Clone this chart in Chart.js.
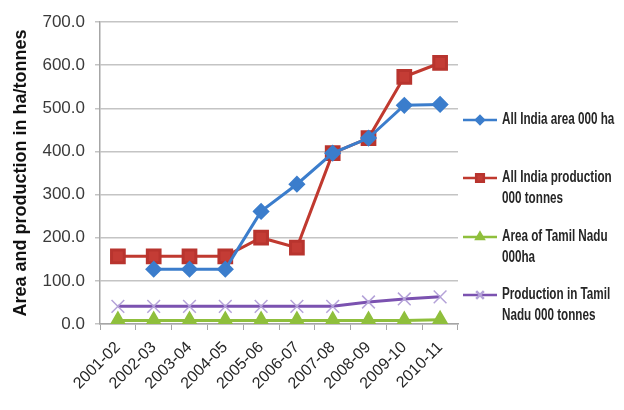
<!DOCTYPE html>
<html>
<head>
<meta charset="utf-8">
<script src="https://cdn.jsdelivr.net/npm/chart.js@4.4.1/dist/chart.umd.min.js"></script>
<style>
  html, body { margin: 0; padding: 0; background: #fff; }
  #wrap { width: 624px; height: 410px; position: relative; }
</style>
</head>
<body>
<div id="wrap"><canvas id="seedChart"></canvas></div>
<script>
const years = ['2001-02', '2002-03', '2003-04', '2004-05', '2005-06', '2006-07', '2007-08', '2008-09', '2009-10', '2010-11'];
const indiaArea = [null, 127, 127, 127, 261, 324, 396, 431, 507, 509];
const indiaProduction = [157, 157, 157, 157, 200, 177, 396, 431, 573, 605];
const tnArea = [8, 8, 8, 8, 8, 8, 8, 8, 8, 10];
const tnProduction = [41, 41, 41, 41, 41, 41, 41, 51, 58, 63];
const yTicks = [0, 100, 200, 300, 400, 500, 600, 700];

const legendLines = [
  ['All India area 000 ha'],
  ['All India production', '000 tonnes'],
  ['Area of Tamil Nadu', '000ha'],
  ['Production in Tamil', 'Nadu 000 tonnes']
];

const tickFont = '"Liberation Sans", Arial, sans-serif';

// legend drawn by hand so the labels can wrap like the original
const sideLegend = {
  id: 'sideLegend',
  afterDraw(chart) {
    const ctx = chart.ctx;
    const rows = [120, 178, 237, 295];
    ctx.save();
    chart.data.datasets.forEach((ds, i) => {
      const y = rows[i];
      ctx.strokeStyle = ds.borderColor;
      ctx.lineWidth = 2.5;
      ctx.beginPath();
      ctx.moveTo(463, y);
      ctx.lineTo(497, y);
      ctx.stroke();
      ctx.fillStyle = ds.pointBackgroundColor;
      ctx.strokeStyle = ds.pointBorderColor;
      Chart.helpers.drawPoint(ctx, {
        pointStyle: ds.pointStyle,
        radius: ds.pointRadius * 0.6,
        borderWidth: 1
      }, 480, y);
      ctx.fillStyle = '#262626';
      ctx.font = 'bold 16px ' + tickFont;
      ctx.textBaseline = 'middle';
      legendLines[i].forEach((t, j) => {
        ctx.save();
        ctx.translate(502, y + j * 21);
        ctx.scale(0.73, 1);
        ctx.fillText(t, 0, 0);
        ctx.restore();
      });
    });
    ctx.restore();
  }
};

new Chart(document.getElementById('seedChart'), {
  type: 'line',
  data: {
    labels: years,
    datasets: [{
      label: 'All India area 000 ha',
      data: indiaArea,
      borderColor: '#3b7dcc',
      pointBackgroundColor: '#3b7dcc',
      pointBorderColor: '#3b7dcc',
      pointStyle: 'rectRot',
      pointRadius: 6.5,
      borderWidth: 3
    }, {
      label: 'All India production 000 tonnes',
      data: indiaProduction,
      borderColor: '#c0392f',
      pointBackgroundColor: '#c43c35',
      pointBorderColor: '#b8342e',
      pointStyle: 'rect',
      pointRadius: 9,
      borderWidth: 3
    }, {
      label: 'Area of Tamil Nadu 000ha',
      data: tnArea,
      borderColor: '#8fbf3c',
      pointBackgroundColor: '#8fbf3c',
      pointBorderColor: '#8fbf3c',
      pointStyle: 'triangle',
      pointRadius: 7,
      borderWidth: 3
    }, {
      label: 'Production in Tamil Nadu 000 tonnes',
      data: tnProduction,
      borderColor: '#7b52b0',
      pointBackgroundColor: '#b9a6dc',
      pointBorderColor: '#b4a2d8',
      pointStyle: 'crossRot',
      pointRadius: 9,
      pointBorderWidth: 1.5,
      borderWidth: 3
    }]
  },
  options: {
    responsive: true,
    maintainAspectRatio: false,
    animation: false,
    layout: { padding: { top: 22, right: 166, left: 0, bottom: 0 } },
    plugins: {
      legend: { display: false },
      tooltip: { enabled: false }
    },
    scales: {
      x: {
        offset: true,
        afterFit: (scale) => { scale.height = 86; },
        grid: {
          offset: true,
          drawOnChartArea: false,
          drawTicks: true,
          tickLength: 6,
          color: '#a6a6a6'
        },
        border: { color: '#a6a6a6', width: 1.5 },
        ticks: {
          color: '#262626',
          maxRotation: 45,
          minRotation: 45,
          autoSkip: false,
          padding: 8,
          font: { family: tickFont, size: 16 }
        }
      },
      y: {
        min: 0,
        max: 700,
        afterFit: (scale) => { scale.width = 100; },
        afterBuildTicks: (scale) => { scale.ticks = yTicks.map(v => ({ value: v })); },
        grid: { color: '#c4c4c4', lineWidth: 1.5, tickLength: 5 },
        border: { color: '#a6a6a6', width: 1.5 },
        title: {
          display: true,
          text: 'Area and production in ha/tonnes',
          color: '#111',
          padding: { top: 10, bottom: 4 },
          font: { family: tickFont, size: 18, weight: 'bold' }
        },
        ticks: {
          color: '#3a3a3a',
          padding: 10,
          callback: (v) => Number(v).toFixed(1),
          font: { family: tickFont, size: 17 }
        }
      }
    }
  },
  plugins: [sideLegend]
});
</script>
</body>
</html>
